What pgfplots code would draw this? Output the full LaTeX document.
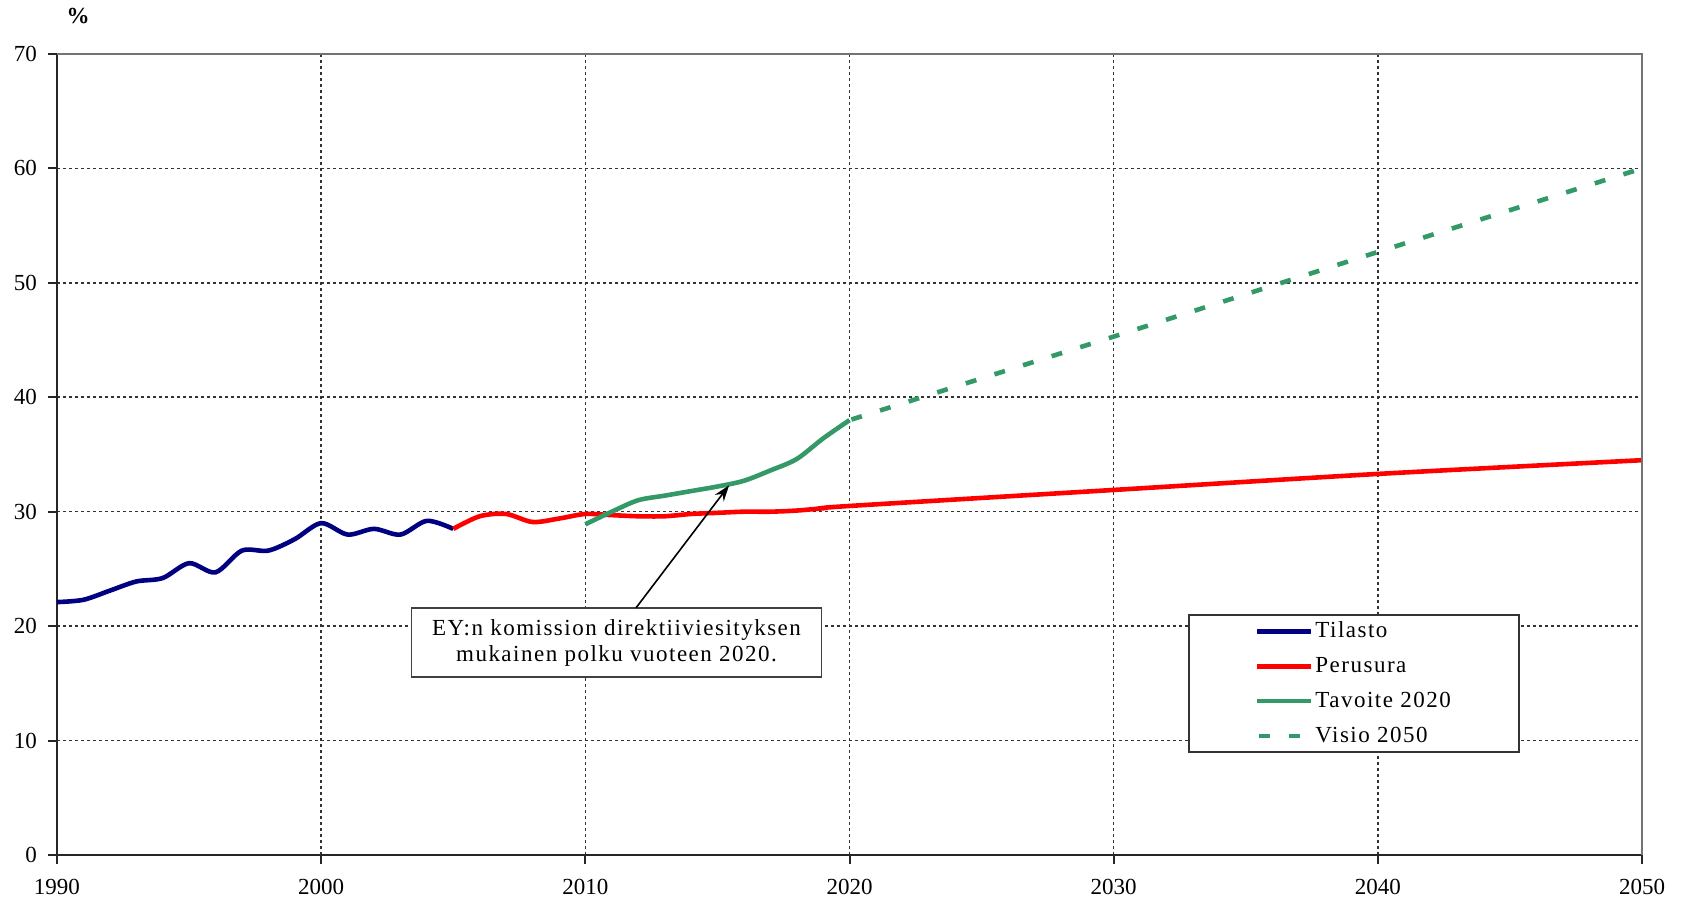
\documentclass[border=0pt]{standalone}
\usepackage{fontspec}
\setmainfont{Liberation Serif}
\newfontfamily\spaced{Liberation Serif}[LetterSpace=6.5]
\usepackage{pgfplots}
\pgfplotsset{compat=1.18}
\usetikzlibrary{arrows.meta}

\definecolor{tilasto}{RGB}{0,0,128}
\definecolor{perusura}{RGB}{255,0,0}
\definecolor{tavoite}{RGB}{51,153,102}

\begin{document}
\begin{tikzpicture}[font=\fontsize{11.5}{13}\selectfont]
\begin{axis}[
    scale only axis,
    width=792.5pt, height=400.5pt,
    xmin=1990, xmax=2050,
    ymin=0, ymax=70,
    xtick={1990,2000,...,2050},
    ytick={0,10,...,70},
    axis lines*=left,
    axis line style={black!85, line width=1pt},
    tick align=outside,
    major tick length=4.5pt,
    tick style={black!85, line width=1pt},
    /pgf/number format/1000 sep={},
    /pgf/number format/assume math mode=true,
    yticklabel style={xshift=-2pt},
    xticklabel style={inner sep=1pt, yshift=-6.3pt},
    grid=major,
    major grid style={black!80, line width=0.8pt, dash pattern=on 1.5pt off 1.5pt},
    legend cell align=left,
    legend image code/.code={\draw[#1] (0pt,0pt) -- (27pt,0pt);},
    legend style={at={(rel axis cs:0.7136,0.3009)}, anchor=north west,
        draw=black!80, line width=0.8pt, fill=white,
        inner xsep=33pt, inner ysep=2.5pt, row sep=6.3pt,
        font=\fontsize{11.5}{13}\spaced,
        nodes={inner sep=1pt}},
]
% Tilasto
\addplot[tilasto, line width=2.3pt, smooth] coordinates {
    (1990,22.1) (1991,22.3) (1992,23.1) (1993,23.9) (1994,24.2) (1995,25.5)
    (1996,24.7) (1997,26.6) (1998,26.6) (1999,27.6) (2000,29.0) (2001,28.0)
    (2002,28.5) (2003,28.0) (2004,29.2) (2005,28.5)};
\addlegendentry{Tilasto}
% Perusura
\addplot[perusura, line width=2.3pt, smooth] coordinates {
    (2005,28.5) (2006,29.6) (2007,29.8) (2008,29.1) (2009,29.4) (2010,29.8)
    (2011,29.7) (2012,29.6) (2013,29.6) (2014,29.8) (2015,29.9) (2016,30.0)
    (2017,30.0) (2018,30.1) (2019,30.3) (2020,30.5) (2030,31.9) (2040,33.3)
    (2050,34.5)};
\addlegendentry{Perusura}
% Tavoite 2020
\addplot[tavoite, line width=2.3pt, smooth] coordinates {
    (2010,28.9) (2011,30.0) (2012,31.0) (2013,31.4) (2014,31.8) (2015,32.2)
    (2016,32.7) (2017,33.6) (2018,34.6) (2019,36.4) (2020,38.0)};
\addlegendentry{Tavoite 2020}
% Visio 2050
\addplot[tavoite, line width=2.3pt, dash pattern=on 5.5pt off 9.5pt, dash phase=-1pt] coordinates {
    (2020,38.0) (2030,45.3) (2040,52.7) (2050,60.0)};
\addlegendentry{Visio 2050}

\node[draw=black!75, line width=0.8pt, fill=white, align=center,
      minimum width=205pt, minimum height=34.5pt, inner sep=0pt,
      font=\fontsize{11.5}{13}\spaced]
    at (axis cs:2011.18,18.57)
    {EY:n komission direktiiviesityksen\\mukainen polku vuoteen 2020.};
\draw[-{Stealth[length=8pt,width=5.5pt]}, line width=0.8pt]
    (axis cs:2011.92,21.6) -- (axis cs:2015.44,32.3);
\end{axis}
\draw[black!55, line width=1pt] (current axis.north west) -- (current axis.north east) -- (current axis.south east);
\node[font=\fontsize{11.5}{13}\selectfont\bfseries, inner sep=1pt] at ([xshift=10.5pt,yshift=19pt]current axis.north west) {\%};
\path ([xshift=-28.5pt,yshift=-21.5pt]current axis.south west) rectangle ([xshift=20pt,yshift=27pt]current axis.north east);
\end{tikzpicture}
\end{document}
